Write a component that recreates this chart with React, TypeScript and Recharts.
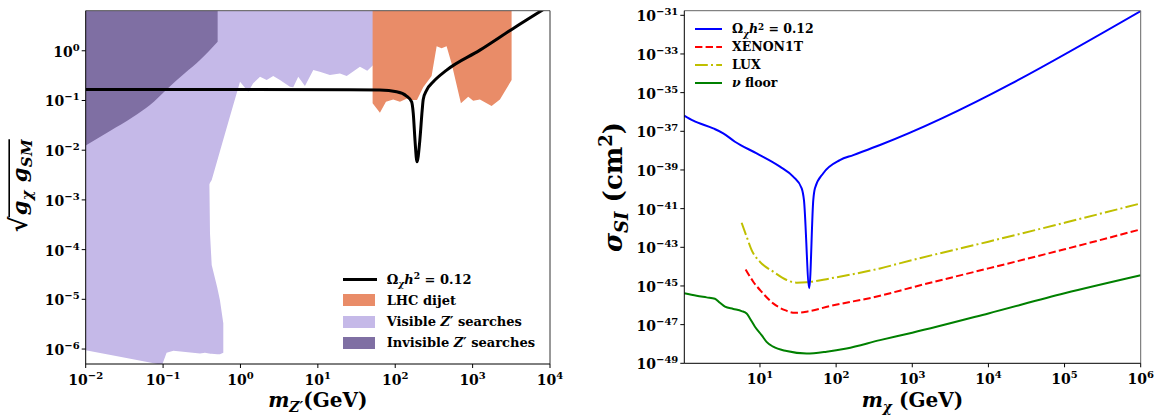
import React from 'react';
import { ComposedChart, Line, Area, XAxis, YAxis, ReferenceLine, Label } from 'recharts';

const FONT = '"DejaVu Serif", serif';

// ---------- Left panel: Z' mediator coupling vs mass ----------
// Relic-density contour Omega h^2 = 0.12
const relicZpMass = [0.01, 26, 63, 104, 140, 163, 171, 180, 191, 208, 223, 230, 255, 310, 462, 1242, 3350, 10000];
const relicZpCoupling = [0.167, 0.165, 0.162, 0.15, 0.123, 0.094, 0.055, 0.016, 0.00585, 0.016, 0.064, 0.105, 0.162, 0.238, 0.409, 1.03, 2.82, 8.2];

// Visible Z' searches, low-mass block (floor and ceiling of the excluded band)
const visibleLowMass = [0.01, 0.0277, 0.0912, 0.0977, 0.111, 0.136, 0.3, 0.348, 0.392, 0.397, 0.404, 0.425, 0.501, 0.543, 0.6];
const visibleLowFloor = [9.5e-7, 7.0e-7, 4.9e-7, 4.9e-7, 8.4e-7, 9.2e-7, 8.15e-7, 8.4e-7, 8.1e-7, 8.1e-7, 8.0e-7, 8.0e-7, 7.9e-7, 7.9e-7, 8.4e-7];
const visibleLowCeil = [10, 10, 10, 10, 10, 10, 10, 10, 10, 1.99e-3, 2.1e-4, 4.9e-5, 1.73e-5, 9.6e-6, 3.3e-6];

// Visible Z' searches, upper block
const visibleHighMass = [0.388, 0.425, 0.543, 0.731, 0.987, 1.26, 1.46, 1.79, 2.18, 2.65, 3.24, 4.36, 4.81, 5.58, 6.81, 8.73, 10.6, 14.3, 19.3, 23.6, 35.0, 43.5, 52.0, 63.4];
const visibleHighFloor = [1.99e-3, 2.5e-3, 9.5e-3, 0.0474, 0.238, 0.15, 0.221, 0.3, 0.257, 0.31, 0.257, 0.189, 0.184, 0.3, 0.195, 0.409, 0.378, 0.324, 0.351, 0.31, 0.477, 0.396, 0.515, 0.515];
const visibleHighCeil = [10, 10, 10, 10, 10, 10, 10, 10, 10, 10, 10, 10, 10, 10, 10, 10, 10, 10, 10, 10, 10, 10, 10, 10];

// Invisible Z' searches
const invisibleMass = [0.01, 0.0206, 0.0408, 0.0677, 0.111, 0.192, 0.3, 0.507];
const invisibleFloor = [0.0125, 0.0242, 0.0463, 0.0808, 0.167, 0.356, 0.65, 1.52];
const invisibleCeil = [10, 10, 10, 10, 10, 10, 10, 10];

// LHC dijet
const dijetMass = [51.0, 63.4, 75.9, 94.2, 115, 140, 163, 191, 230, 295, 343, 397, 461, 535, 706, 878, 1018, 1242, 1758, 2254, 3190];
const dijetFloor = [0.0875, 0.0566, 0.094, 0.105, 0.094, 0.108, 0.102, 0.102, 0.184, 0.31, 1.24, 1.12, 1.24, 0.557, 0.0875, 0.119, 0.0986, 0.105, 0.0771, 0.105, 0.257];
const dijetCeil = [10, 10, 10, 10, 10, 10, 10, 10, 10, 10, 10, 10, 10, 10, 10, 10, 10, 10, 10, 10, 10];

const leftXTicks = [1e-2, 1e-1, 1, 10, 100, 1e3, 1e4];
const leftYTicks = [1e-6, 1e-5, 1e-4, 1e-3, 1e-2, 1e-1, 1];

// ---------- Right panel: spin-independent cross section vs DM mass ----------
const relicDmMass = [1.01, 1.33, 2.43, 3.29, 4.69, 9.04, 18.3, 27.3, 35.3, 37.8, 44.4, 50.1, 52.7, 67.8, 112, 168, 377, 1e6];
const relicDmSigma = [6.5e-37, 3.55e-37, 1.41e-37, 7.9e-38, 2.88e-38, 7.2e-39, 1.48e-39, 4.5e-40, 1.12e-40, 2.75e-41, 7.6e-46, 2.75e-41, 1.12e-40, 6.8e-40, 3.24e-39, 5.9e-39, 1.95e-38, 1.66e-31];

const xenonMass = [6.48, 8.16, 10.5, 14.9, 21.3, 28.8, 41, 83, 377, 1e3, 1e4, 1e5, 1e6];
const xenonSigma = [7.2e-45, 1.66e-45, 5.0e-46, 1.26e-46, 5.6e-47, 4.1e-47, 4.7e-47, 9.1e-47, 3.1e-46, 8.5e-46, 8.1e-45, 7.9e-44, 8.5e-43];

const luxMass = [5.74, 6.68, 7.77, 10, 14.9, 22.4, 30.3, 41, 83, 377, 1e3, 1e4, 1e5, 1e6];
const luxSigma = [1.86e-42, 3.55e-43, 7.2e-44, 1.78e-44, 5.5e-45, 2.04e-45, 1.48e-45, 1.55e-45, 2.45e-45, 8.1e-45, 2.19e-44, 1.95e-43, 1.86e-42, 1.86e-41];

const nuFloorMass = [1.01, 1.47, 1.99, 2.56, 2.98, 3.47, 4.46, 5.74, 6.68, 7.38, 8.59, 10.5, 12.2, 14.9, 22.4, 41, 75, 137, 377, 1e3, 1e4, 1e5, 1e6];
const nuFloorSigma = [4.2e-46, 3.1e-46, 2.57e-46, 2.19e-46, 1.35e-46, 8.5e-47, 6.5e-47, 5.0e-47, 3.8e-47, 2.09e-47, 7.8e-48, 2.88e-48, 1.29e-48, 7.2e-49, 4.3e-49, 3.2e-49, 4.0e-49, 5.9e-49, 1.58e-48, 3.8e-48, 3.8e-47, 4.2e-46, 3.6e-45];

const rightXTicks = [10, 100, 1e3, 1e4, 1e5, 1e6];
const rightYTicks = [1e-49, 1e-47, 1e-45, 1e-43, 1e-41, 1e-39, 1e-37, 1e-35, 1e-33, 1e-31];

// ---------- helpers ----------
const curve = (m: number[], v: number[]) => m.map((x, i) => ({ m: x, v: v[i] }));
const band = (m: number[], lo: number[], hi: number[]) => m.map((x, i) => ({ m: x, range: [lo[i], hi[i]] }));

const expText = (v: number) => {
  const e = Math.round(Math.log10(v));
  return e < 0 ? '\u2212' + String(-e) : String(e);
};

const YTick = (props: any) => {
  const { x, y, payload } = props;
  return (
    <text x={x} y={y + 6} textAnchor="end" fontFamily={FONT} fontWeight="bold" fontSize={14} fill="#000">
      10<tspan dy={-6} fontSize={10}>{expText(payload.value)}</tspan>
    </text>
  );
};

const XTick = (props: any) => {
  const { x, y, payload } = props;
  return (
    <text x={x} y={y + 15} textAnchor="middle" fontFamily={FONT} fontWeight="bold" fontSize={14} fill="#000">
      10<tspan dy={-6} fontSize={10}>{expText(payload.value)}</tspan>
    </text>
  );
};

const COL_INVIS = '#7F6FA3';
const COL_VIS = '#C5B9E8';
const COL_DIJET = '#E98C68';

const swatchRow: React.CSSProperties = { display: 'flex', alignItems: 'center', whiteSpace: 'nowrap' };

const LeftLegend = () => (
  <div style={{ position: 'absolute', left: 342.7, top: 268.4, fontFamily: FONT, fontWeight: 'bold', fontSize: 13, color: '#000' }}>
    <div style={{ ...swatchRow, height: 21.3 }}>
      <div style={{ width: 34, height: 3, background: '#000' }} />
      <span style={{ marginLeft: 10 }}>
        Ω<span style={{ fontSize: '0.7em', position: 'relative', top: '0.35em', fontStyle: 'italic' }}>χ</span>
        <i>h</i><span style={{ fontSize: '0.7em', position: 'relative', top: '-0.45em' }}>2</span> = 0.12
      </span>
    </div>
    <div style={{ ...swatchRow, height: 21.3 }}>
      <div style={{ width: 32, height: 12, background: COL_DIJET, marginLeft: 0.6, marginRight: 1.4 }} />
      <span style={{ marginLeft: 10 }}>LHC dijet</span>
    </div>
    <div style={{ ...swatchRow, height: 21.3 }}>
      <div style={{ width: 32, height: 12, background: COL_VIS, marginLeft: 0.6, marginRight: 1.4 }} />
      <span style={{ marginLeft: 10 }}>Visible <i>Z</i>′ searches</span>
    </div>
    <div style={{ ...swatchRow, height: 21.3 }}>
      <div style={{ width: 32, height: 12, background: COL_INVIS, marginLeft: 0.6, marginRight: 1.4 }} />
      <span style={{ marginLeft: 10 }}>Invisible <i>Z</i>′ searches</span>
    </div>
  </div>
);

const lineSample = (color: string, dash?: string) => (
  <svg width={27} height={4} style={{ display: 'block' }}>
    <line x1={0} y1={2} x2={27} y2={2} stroke={color} strokeWidth={2} strokeDasharray={dash} />
  </svg>
);

const RightLegend = () => (
  <div style={{ position: 'absolute', left: 695, top: 20, fontFamily: FONT, fontWeight: 'bold', fontSize: 12.5, color: '#000' }}>
    <div style={{ ...swatchRow, height: 17.9 }}>
      {lineSample('#0000FF')}
      <span style={{ marginLeft: 10 }}>
        Ω<span style={{ fontSize: '0.7em', position: 'relative', top: '0.35em', fontStyle: 'italic' }}>χ</span>
        <i>h</i><span style={{ fontSize: '0.7em', position: 'relative', top: '-0.45em' }}>2</span> = 0.12
      </span>
    </div>
    <div style={{ ...swatchRow, height: 17.9 }}>
      {lineSample('#FF0000', '7.4 3.2')}
      <span style={{ marginLeft: 10 }}>XENON1T</span>
    </div>
    <div style={{ ...swatchRow, height: 17.9 }}>
      {lineSample('#BFBF00', '12.8 3.2 2 3.2')}
      <span style={{ marginLeft: 10 }}>LUX</span>
    </div>
    <div style={{ ...swatchRow, height: 17.9 }}>
      {lineSample('#008000')}
      <span style={{ marginLeft: 10 }}><i>ν</i> floor</span>
    </div>
  </div>
);

// sqrt(g_chi g_SM): radical sign, radicand stretched to a fixed length, and a vinculum over it
const RADICAND_LEN = 76;
const LeftYLabel = (props: any) => {
  const vb = props.viewBox || { x: 5.7, y: 10.7, width: 80, height: 353 };
  const bx = vb.x + 21;
  const cy = vb.y + vb.height / 2;
  const start = -30;
  return (
    <g transform={`translate(${bx},${cy}) rotate(-90)`} fontFamily={FONT} fontWeight="bold" fill="#000">
      <text x={start + 1} y={0} textAnchor="end" fontSize={24}>√</text>
      <text x={start + 2} y={0} fontSize={21} fontStyle="italic" textLength={RADICAND_LEN} lengthAdjust="spacing">
        g<tspan fontSize={15} dy={5}>χ</tspan><tspan dy={-5}> g</tspan><tspan fontSize={15} dy={5}>SM</tspan>
      </text>
      <line x1={start} y1={-17.5} x2={start + 2 + RADICAND_LEN} y2={-17.5} stroke="#000" strokeWidth={1.6} />
    </g>
  );
};

const LeftXLabel = (props: any) => {
  const vb = props.viewBox || { x: 85.7, y: 364, width: 464, height: 30 };
  const cx = vb.x + vb.width / 2;
  const by = vb.y + 43;
  return (
    <text x={cx} y={by} textAnchor="middle" fontFamily={FONT} fontWeight="bold" fontSize={20} fill="#000">
      <tspan fontStyle="italic">m</tspan>
      <tspan fontStyle="italic" fontSize={14} dy={5}>Z′</tspan>
      <tspan dy={-5}>(GeV)</tspan>
    </text>
  );
};

const RightYLabel = (props: any) => {
  const vb = props.viewBox || { x: 4.3, y: 10.7, width: 100, height: 353 };
  const bx = vb.x + 37.5;
  const cy = vb.y + vb.height / 2;
  return (
    <text transform={`translate(${bx},${cy}) rotate(-90)`} textAnchor="middle" fontFamily={FONT} fontWeight="bold" fontSize={26} fill="#000">
      <tspan fontStyle="italic">σ</tspan>
      <tspan fontStyle="italic" fontSize={18} dy={6}>SI</tspan>
      <tspan dy={-6}> (cm</tspan>
      <tspan fontSize={18} dy={-10}>2</tspan>
      <tspan dy={10}>)</tspan>
    </text>
  );
};

const RightXLabel = (props: any) => {
  const vb = props.viewBox || { x: 104.3, y: 363.3, width: 456, height: 30 };
  const cx = vb.x + vb.width / 2;
  const by = vb.y + 43.5;
  return (
    <text x={cx} y={by} textAnchor="middle" fontFamily={FONT} fontWeight="bold" fontSize={20} fill="#000">
      <tspan fontStyle="italic">m</tspan>
      <tspan fontStyle="italic" fontSize={14} dy={5}>χ</tspan>
      <tspan dy={-5}> (GeV)</tspan>
    </text>
  );
};

const LEFT_Y_DOMAIN: [number, number] = [5e-7, 6.4];
const LEFT_X_DOMAIN: [number, number] = [0.01, 1e4];
const RIGHT_Y_DOMAIN: [number, number] = [1e-49, 1.73e-31];
const RIGHT_X_DOMAIN: [number, number] = [1.014, 1e6];

export default function App() {
  return (
    <div style={{ position: 'absolute', left: 0, top: 0, width: 1158, height: 417, background: '#fff', overflow: 'hidden' }}>
      <div style={{ position: 'absolute', left: 0, top: 0 }}>
        <ComposedChart width={580} height={417} margin={{ top: 10.7, right: 30, bottom: 23, left: 5.7 }}>
          <XAxis
            type="number" dataKey="m" scale="log" domain={LEFT_X_DOMAIN} allowDataOverflow
            ticks={leftXTicks} interval={0} height={30} tickSize={4} tickMargin={2}
            axisLine={{ stroke: '#000', strokeWidth: 1 }} tickLine={{ stroke: '#000' }}
            tick={(p: any) => <XTick {...p} />}
          >
            <Label content={(p: any) => <LeftXLabel {...p} />} />
          </XAxis>
          <YAxis
            type="number" scale="log" domain={LEFT_Y_DOMAIN} allowDataOverflow
            ticks={leftYTicks} interval={0} width={80} tickSize={4} tickMargin={2}
            axisLine={{ stroke: '#000', strokeWidth: 1 }} tickLine={{ stroke: '#000' }}
            tick={(p: any) => <YTick {...p} />}
          >
            <Label content={(p: any) => <LeftYLabel {...p} />} />
          </YAxis>
          <Area data={band(visibleLowMass, visibleLowFloor, visibleLowCeil)} dataKey="range" type="linear"
            fill={COL_VIS} fillOpacity={1} stroke="none" isAnimationActive={false} />
          <Area data={band(visibleHighMass, visibleHighFloor, visibleHighCeil)} dataKey="range" type="linear"
            fill={COL_VIS} fillOpacity={1} stroke="none" isAnimationActive={false} />
          <Area data={band(invisibleMass, invisibleFloor, invisibleCeil)} dataKey="range" type="monotone"
            fill={COL_INVIS} fillOpacity={1} stroke="none" isAnimationActive={false} />
          <Area data={band(dijetMass, dijetFloor, dijetCeil)} dataKey="range" type="linear"
            fill={COL_DIJET} fillOpacity={1} stroke="none" isAnimationActive={false} />
          <Line data={curve(relicZpMass, relicZpCoupling)} dataKey="v" type="monotone"
            stroke="#000" strokeWidth={3} dot={false} isAnimationActive={false} />
          <ReferenceLine y={LEFT_Y_DOMAIN[1]} stroke="#555" strokeWidth={1} />
          <ReferenceLine x={LEFT_X_DOMAIN[1]} stroke="#333" strokeWidth={1} />
        </ComposedChart>
      </div>

      <div style={{ position: 'absolute', left: 580, top: 0 }}>
        <ComposedChart width={578} height={417} margin={{ top: 10.7, right: 17.3, bottom: 23.7, left: 4.3 }}>
          <XAxis
            type="number" dataKey="m" scale="log" domain={RIGHT_X_DOMAIN} allowDataOverflow
            ticks={rightXTicks} interval={0} height={30} tickSize={4} tickMargin={2}
            axisLine={{ stroke: '#000', strokeWidth: 1 }} tickLine={{ stroke: '#000' }}
            tick={(p: any) => <XTick {...p} />}
          >
            <Label content={(p: any) => <RightXLabel {...p} />} />
          </XAxis>
          <YAxis
            type="number" scale="log" domain={RIGHT_Y_DOMAIN} allowDataOverflow
            ticks={rightYTicks} interval={0} width={100} tickSize={4} tickMargin={2}
            axisLine={{ stroke: '#000', strokeWidth: 1 }} tickLine={{ stroke: '#000' }}
            tick={(p: any) => <YTick {...p} />}
          >
            <Label content={(p: any) => <RightYLabel {...p} />} />
          </YAxis>
          <Line data={curve(nuFloorMass, nuFloorSigma)} dataKey="v" type="monotone"
            stroke="#008000" strokeWidth={2} dot={false} isAnimationActive={false} />
          <Line data={curve(luxMass, luxSigma)} dataKey="v" type="monotone"
            stroke="#BFBF00" strokeWidth={2} strokeDasharray="12.8 3.2 2 3.2" dot={false} isAnimationActive={false} />
          <Line data={curve(xenonMass, xenonSigma)} dataKey="v" type="monotone"
            stroke="#FF0000" strokeWidth={2} strokeDasharray="7.4 3.2" dot={false} isAnimationActive={false} />
          <Line data={curve(relicDmMass, relicDmSigma)} dataKey="v" type="monotone"
            stroke="#0000FF" strokeWidth={2} dot={false} isAnimationActive={false} />
          <ReferenceLine y={RIGHT_Y_DOMAIN[1]} stroke="#666" strokeWidth={1} />
          <ReferenceLine x={RIGHT_X_DOMAIN[1]} stroke="#666" strokeWidth={1} />
        </ComposedChart>
      </div>

      <LeftLegend />
      <RightLegend />
    </div>
  );
}
